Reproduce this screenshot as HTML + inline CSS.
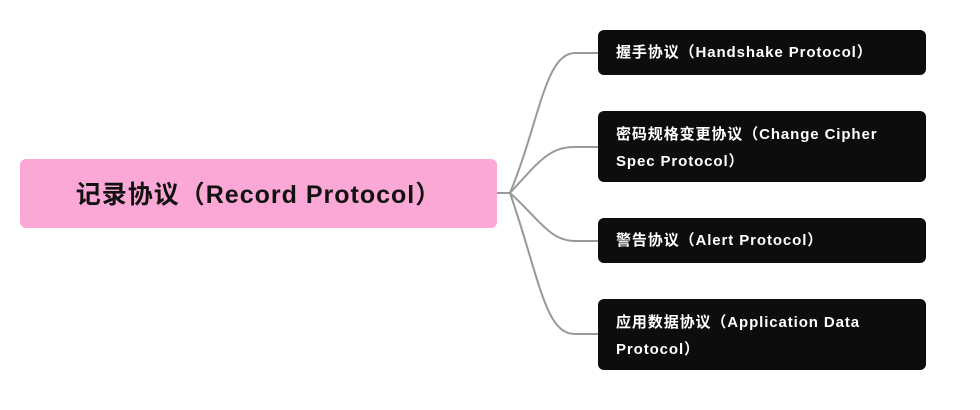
<!DOCTYPE html>
<html><head><meta charset="utf-8"><style>
body{margin:0;width:980px;height:410px;background:#fff;position:relative;overflow:hidden;font-family:"Liberation Sans","Noto Sans CJK SC",sans-serif;font-weight:bold}
.root{position:absolute;left:20px;top:159px;width:477px;height:69px;background:#fca8d6;border-radius:6px;color:#111;font-size:25px;line-height:73px;text-align:center;letter-spacing:1px}
.b{position:absolute;left:598px;width:328px;background:#0d0d0d;border-radius:6px;color:#fff;font-size:15px;line-height:27px;box-sizing:border-box;padding:10px 18px 0;letter-spacing:0.9px}
</style></head><body>
<svg width="980" height="410" style="position:absolute;left:0;top:0">
<g fill="none" stroke="#999" stroke-width="2">
<path d="M497 193 H510 C540 120,545 53,575 53 H598"/>
<path d="M510 193 C540 160,550 147,575 147 H598"/>
<path d="M510 193 C540 220,550 241,575 241 H598"/>
<path d="M510 193 C540 280,545 334,575 334 H598"/>
</g></svg>
<div class="root">记录协议（Record Protocol）</div>
<div class="b" style="top:30px;height:45px;padding-top:9px">握手协议（Handshake Protocol）</div>
<div class="b" style="top:111px;height:71px">密码规格变更协议（Change Cipher Spec Protocol）</div>
<div class="b" style="top:218px;height:45px;padding-top:9px">警告协议（Alert Protocol）</div>
<div class="b" style="top:299px;height:71px">应用数据协议（Application Data Protocol）</div>
</body></html>
